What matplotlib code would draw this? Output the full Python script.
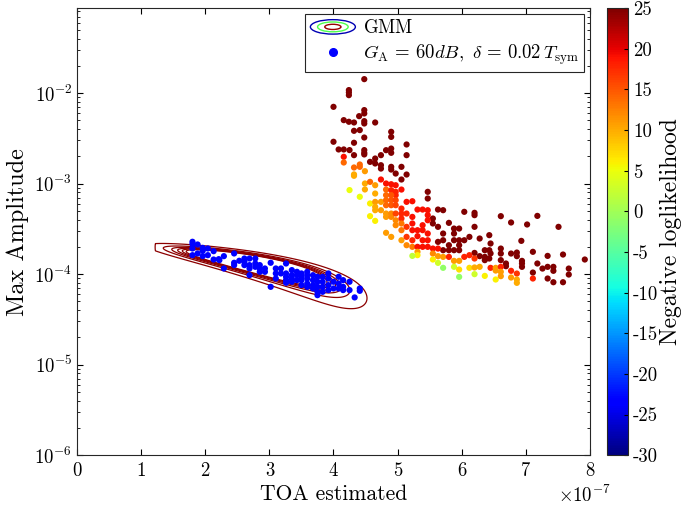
import numpy as np
import matplotlib
matplotlib.use("Agg")
import matplotlib.pyplot as plt
from matplotlib.patches import Ellipse
from matplotlib.lines import Line2D
from matplotlib.legend_handler import HandlerBase
from matplotlib.ticker import FuncFormatter, FixedLocator

plt.rcParams['font.family'] = ['cmr10', 'DejaVu Serif']
plt.rcParams['mathtext.fontset'] = 'cm'
plt.rcParams['axes.unicode_minus'] = False
plt.rcParams['axes.formatter.use_mathtext'] = True

# blue cluster (TOA in units of 1e-7 s, log10 of max amplitude)
toa_blue = [1.80, 1.80, 1.80, 1.80, 1.88, 1.88, 1.96, 1.96, 1.96, 2.04, 2.04, 2.13, 2.13,
            2.21, 2.22, 2.29, 2.29, 2.45, 2.45, 2.45, 2.53, 2.61, 2.61, 2.61,
            2.69, 2.69, 2.69, 2.69, 2.78, 2.78, 2.78, 2.85, 2.85, 2.85, 2.93, 2.93,
            3.02, 3.02, 3.10, 3.10, 3.10, 3.18, 3.18, 3.26, 3.26, 3.26, 3.26, 3.26,
            3.35, 3.35, 3.35, 3.35, 3.43, 3.43, 3.43, 3.50, 3.50, 3.50, 3.50,
            3.59, 3.59, 3.59, 3.59, 3.59, 3.68, 3.68, 3.68, 3.68,
            3.75, 3.75, 3.75, 3.75, 3.75, 3.83, 3.83, 3.83, 3.83, 3.92, 3.92, 3.92, 3.92,
            4.00, 4.00, 4.08, 4.08, 4.08, 4.15, 4.15, 4.15, 4.25, 4.25, 4.33, 4.41, 4.41]
amp_blue = [-3.642, -3.668, -3.716, -3.790, -3.672, -3.771, -3.709, -3.742, -3.801, -3.716, -3.790,
            -3.746, -3.838, -3.834, -3.845, -3.801, -3.937, -3.771, -3.874, -3.900, -3.852,
            -3.827, -3.863, -3.900, -3.827, -3.900, -3.937, -4.011, -3.827, -3.882, -3.919,
            -3.900, -3.937, -3.974, -3.937, -3.974, -3.874, -4.140, -3.937, -3.992, -4.048,
            -3.937, -3.992, -3.882, -3.992, -4.029, -4.066, -4.095, -3.955, -4.011, -4.048, -4.084,
            -3.974, -4.011, -4.066, -3.992, -4.029, -4.066, -4.121,
            -3.974, -4.011, -4.048, -4.103, -4.140, -4.011, -4.066, -4.121, -4.158,
            -4.029, -4.084, -4.140, -4.195, -4.232, -4.029, -4.084, -4.140, -4.195,
            -3.992, -4.048, -4.121, -4.176, -4.084, -4.158, -4.029, -4.103, -4.158,
            -4.066, -4.140, -4.176, -4.084, -4.176, -4.257, -4.158, -4.184]

# coloured cluster: TOA (1e-7 s), log10 max amplitude, negative loglikelihood
toa_hot = [4.48, 4.00, 4.24, 4.24, 4.24, 4.16, 4.24, 4.32, 4.32, 4.41, 4.40, 4.48, 4.48, 4.48, 4.48,
           4.48, 4.00, 4.08, 4.16, 4.25, 4.32, 4.32, 4.48, 4.48, 4.48, 4.65,
           4.16, 4.16, 4.32, 4.32, 4.32, 4.41, 4.41, 4.49, 4.25, 4.41, 4.49, 4.49,
           4.90, 4.90, 5.14, 4.90, 4.90, 5.14, 4.82, 4.74, 4.65, 4.57, 4.65, 4.74, 4.74, 4.90, 4.90,
           5.06, 4.97, 5.14, 5.06, 5.47, 5.47, 5.55, 5.55, 5.63, 5.63, 5.63, 5.71, 5.71, 5.71, 5.71,
           5.80, 5.80, 5.80, 5.88, 5.88, 5.88, 5.88, 5.96, 5.96, 5.96, 5.96, 6.04, 6.04, 6.12,
           6.20, 6.20, 6.20, 6.20, 6.28, 6.28, 6.36, 6.36, 6.36, 6.43, 6.43, 6.43, 6.45, 6.45,
           4.57, 4.74, 4.82, 4.90, 4.97, 5.06, 4.65, 4.65, 4.82, 4.90, 4.97, 4.97, 4.57, 4.65,
           4.65, 4.65, 4.74, 4.74, 4.82, 4.82, 4.82, 4.82, 4.82, 4.90, 4.90, 4.90, 4.90, 4.90,
           4.97, 4.97, 4.97, 4.97, 4.97, 4.57, 4.65, 4.82, 4.90, 5.06, 5.06, 5.06, 5.06, 5.06, 5.06,
           5.14, 5.14, 5.14, 5.14, 5.14, 5.23, 5.23, 5.23, 5.23, 5.23, 5.23, 5.31, 5.31, 5.31,
           5.31, 5.31, 5.31, 5.23, 5.39, 5.39, 5.39, 5.39, 5.39, 5.47, 5.47, 5.47, 5.47, 5.47,
           5.47, 5.55, 5.55, 5.55, 5.63, 5.63, 5.63, 5.71, 5.71, 5.80, 5.88, 5.88, 5.96, 5.96,
           5.96, 6.04, 6.12, 6.12, 6.20, 6.20, 6.20, 6.28, 6.36,
           6.61, 6.77, 7.02, 7.18, 7.51, 6.93, 6.61, 6.61, 6.61, 6.69, 6.69, 6.77, 6.86, 6.86,
           6.94, 6.94, 6.94, 7.11, 7.11, 7.18, 7.26, 7.34, 7.34, 7.34, 7.43, 7.43, 7.43, 7.58,
           7.58, 7.67, 7.67, 7.92,
           6.45, 6.53, 6.53, 6.53, 6.61, 6.61, 6.61, 6.77, 6.77, 6.86, 6.86, 6.86, 7.11]
amp_hot = [-1.845, -2.151, -1.966, -1.992, -2.022, -2.298, -2.316, -2.324, -2.416, -2.408, -2.254,
           -2.187, -2.224, -2.309, -2.335, -2.490, -2.537, -2.622, -2.622, -2.629, -2.685, -2.548,
           -2.629, -2.659, -2.677, -2.324,
           -2.703, -2.766, -2.821, -2.898, -2.913, -2.788, -2.814, -2.862, -3.071, -3.145, -2.998, -3.064,
           -2.427, -2.483, -2.567, -2.612, -2.659, -2.685, -2.630, -2.685, -2.722, -2.759, -2.777,
           -2.796, -2.833, -2.814, -2.844, -2.814, -2.888, -2.899, -2.954, -3.090, -3.164, -3.385,
           -3.440, -3.286, -3.477, -3.643, -3.293, -3.551, -3.625, -3.735, -3.433, -3.680, -3.735,
           -3.496, -3.551, -3.625, -3.735, -3.496, -3.625, -3.680, -3.735, -3.311, -3.625, -3.588,
           -3.322, -3.348, -3.477, -3.765, -3.606, -3.801, -3.735, -3.809, -3.845, -3.569, -3.735,
           -3.827, -3.661, -3.771,
           -2.980, -2.954, -2.998, -3.006, -3.017, -3.065, -3.017, -3.109, -3.065, -3.072, -3.090,
           -3.127, -3.219, -3.201, -3.256, -3.293, -3.201, -3.293, -3.127, -3.182, -3.238, -3.330,
           -3.367, -3.127, -3.182, -3.238, -3.330, -3.367, -3.182, -3.238, -3.330, -3.404, -3.459,
           -3.359, -3.411, -3.543, -3.588, -3.275, -3.330, -3.385, -3.440, -3.514, -3.625,
           -3.201, -3.330, -3.477, -3.588, -3.680, -3.194, -3.367, -3.440, -3.514, -3.625, -3.698,
           -3.286, -3.514, -3.580, -3.698, -3.753, -3.790, -3.798, -3.286, -3.459, -3.514, -3.625,
           -3.698, -3.293, -3.348, -3.404, -3.551, -3.625, -3.698, -3.717, -3.772, -3.838, -3.717,
           -3.801, -3.875, -3.809, -3.930, -3.809, -3.853, -3.919, -3.853, -3.949, -4.030, -3.809,
           -3.790, -3.930, -3.827, -3.926, -4.000, -3.919, -4.019,
           -3.359, -3.429, -3.451, -3.356, -3.477, -3.632, -3.717, -3.772, -3.845, -3.882, -3.912,
           -3.772, -3.761, -3.801, -3.853, -3.882, -3.919, -3.753, -3.982, -3.882, -3.938, -3.798,
           -3.919, -4.048, -3.919, -3.963, -4.089, -3.783, -4.089, -3.938, -4.004, -3.838,
           -3.930, -3.930, -3.960, -4.059, -3.919, -3.974, -4.022, -3.963, -4.037, -3.993, -4.059,
           -4.096, -4.048]
nll_hot = [25] * 26 + \
          [19, 14, 14, 10, 10, 14, 14, 11, 5, 5, 10, 10] + \
          [25] * 58 + \
          [14, 19, 19, 19, 19, 19, 11, 10, 14, 18, 18, 18, 6, 11,
           10, 10, 11, 11, 14, 14, 14, 11, 11, 15, 15, 15, 12, 12,
           16, 16, 16, 12, 12, 6, 6, 11, 11, 18, 18, 18, 13, 13, 11,
           19, 18, 17, 17, 12, 19, 19, 19, 19, 18, 13, 19, 19, 19,
           19, 11, 6, 2, 19, 19, 19, 19, 19, 19, 19, 19, 19, 19,
           19, 19, 12, 6, 19, 11, 3, 11, -1, 18, 11, 3, 11, 7,
           -1, 18, 18, 7, 17, 10, 3, 10, 6] + \
          [25] * 32 + \
          [18, 11, 11, 6, 18, 11, 11, 18, 11, 17, 10, 10, 18]

# GMM fitted to the blue cluster (x in 1e-7 s, y in 1e-4)
gmm_mean = [2.8, 1.30]
gmm_cov = [[0.329, -0.1446], [-0.1446, 0.0867]]
gmm_levels = [0.011, 0.04, 0.07, 0.10, 0.13, 0.16]
grid_xmin = 1.22

fig = plt.figure(figsize=(6.82, 5.12), dpi=100)
ax = fig.add_axes([0.113, 0.111, 0.752, 0.873])
cax = fig.add_axes([0.890, 0.111, 0.031, 0.873])

# GMM contours
gx = np.linspace(0.9, 5.5, 500)
gy = np.linspace(0.01, 3.5, 700)
GX, GY = np.meshgrid(gx, gy)
inv = np.linalg.inv(np.array(gmm_cov))
dx, dy = GX - gmm_mean[0], GY - gmm_mean[1]
q = inv[0, 0] * dx ** 2 + 2 * inv[0, 1] * dx * dy + inv[1, 1] * dy ** 2
Z = np.exp(-0.5 * q)
Z[GX < grid_xmin] = 0
ax.contour(GX * 1e-7, GY * 1e-4, Z, levels=gmm_levels, colors=[(0.55, 0, 0)], linewidths=0.9)

ax.scatter(np.array(toa_blue) * 1e-7, 10 ** np.array(amp_blue), s=20, color=(0, 0, 1),
           edgecolors='none', zorder=3)
sc = ax.scatter(np.array(toa_hot) * 1e-7, 10 ** np.array(amp_hot), s=20, c=nll_hot,
                cmap='jet', vmin=-30, vmax=25, edgecolors='none', zorder=3)

ax.set_yscale('log')
ax.set_xlim(0, 8e-7)
ax.set_ylim(1e-6, 0.0869)
ax.xaxis.set_major_locator(FixedLocator(np.arange(0, 9) * 1e-7))
ax.xaxis.set_major_formatter(FuncFormatter(lambda v, _: f'{v * 1e7:.0f}'))
ax.tick_params(which='both', direction='in', top=True, right=True, labelsize=13.5)
ax.tick_params(which='major', length=4)
ax.tick_params(which='minor', length=2)
ax.tick_params(axis='x', pad=5)
for s in ax.spines.values():
    s.set_color('#262626')
ax.set_xlabel('TOA estimated', fontsize=15.5, labelpad=3)
ax.set_ylabel('Max Amplitude', fontsize=17.5, labelpad=4)
ax.text(0.99, -0.0895, r'$\times\mathdefault{10^{-7}}$', transform=ax.transAxes,
        ha='center', va='center', fontsize=13.5)


class GmmHandler(HandlerBase):
    def create_artists(self, legend, orig_handle, xdescent, ydescent, width, height,
                       fontsize, trans):
        cx, cy = 0.5 * width - xdescent, 0.5 * height - ydescent
        arts = []
        for k, col in [(1.0, (0, 0, 0.7)), (0.68, (0.3, 1, 0.3)), (0.36, (0.6, 0, 0))]:
            arts.append(Ellipse((cx, cy), width * k, height * 1.1 * k, fill=False,
                                edgecolor=col, lw=1, transform=trans))
        return arts


gmm_proxy = Line2D([], [])
blue_proxy = Line2D([], [], ls='none', marker='o', ms=5.5, color=(0, 0, 1))
leg = ax.legend([gmm_proxy, blue_proxy],
                [r'$\mathrm{GMM}$', r'$G_{\mathrm{A}}\,=\,60dB,\ \delta\,=\,0.02\,T_{\mathrm{sym}}$'],
                handler_map={gmm_proxy: GmmHandler()}, loc='upper right', fontsize=13.5,
                fancybox=False, framealpha=1, edgecolor='#262626', handlelength=2.4,
                borderaxespad=0.3, labelspacing=0.25, handletextpad=0.4, borderpad=0.3)
leg.get_frame().set_linewidth(0.8)

cb = fig.colorbar(sc, cax=cax)
cb.set_ticks(np.arange(-30, 26, 5))
cb.set_ticklabels([str(t) for t in range(-30, 26, 5)])
cb.ax.tick_params(direction='in', length=3, labelsize=13.5)
cb.outline.set_edgecolor('#262626')
cb.set_label('Negative loglikelihood', fontsize=17, labelpad=1)

fig.savefig('out.png', dpi=100)
